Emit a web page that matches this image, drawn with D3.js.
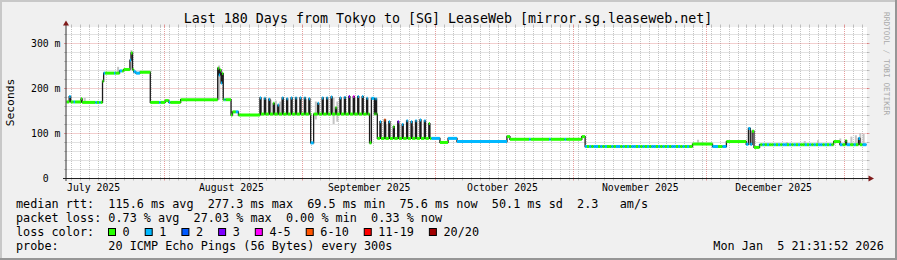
<!DOCTYPE html>
<html><head><meta charset="utf-8">
<script src="https://cdn.jsdelivr.net/npm/d3@7"></script>
<style>
html,body{margin:0;padding:0;background:#f0f0f0;}
svg{display:block;}
text{font-family:"DejaVu Sans Mono",monospace;white-space:pre;}
</style>
</head><body>
<svg id="c" width="897" height="260"></svg>
<script>
// ---------------- data ----------------
const title = "Last 180 Days from Tokyo to [SG] LeaseWeb [mirror.sg.leaseweb.net]";
const yAxisTitle = "Seconds";
const watermark = "RRDTOOL / TOBI OETIKER";
const startTime = "2025-07-09T21:31";
const endTime = "2026-01-05T21:31";
const yTickValues = [0, 100, 200, 300];
const yTickLabels = ["0  ", "100 m", "200 m", "300 m"];
const monthStarts = ["2025-07-01","2025-08-01","2025-09-01","2025-10-01","2025-11-01","2025-12-01","2026-01-01"];
const monthLabels = ["July 2025","August 2025","September 2025","October 2025","November 2025","December 2025","January 2026"];
const minorGridFirst = "2025-07-11T00:00";

const lossLabels = ["0","1","2","3","4-5","6-10","11-19","20/20"];
const lossColors = ["#26ff00","#00b8ff","#0059ff","#7e00ff","#ff00ff","#ff5500","#ff0000","#a10000"];

// median steps: [time step begins, median rtt (ms), loss class index]
const medianSteps = [
 ["2025-07-09T21:31",169,0],["2025-07-10T12:00",181,1],["2025-07-10T20:00",169,0],
 ["2025-07-11T12:00",169,1],["2025-07-11T20:00",169,0],["2025-07-13T04:00",176,0],
 ["2025-07-13T10:00",168,0],["2025-07-16T10:00",168,1],["2025-07-16T18:00",168,0],
 ["2025-07-17T06:00",168,1],["2025-07-17T14:00",168,0],["2025-07-18T00:00",215,0],
 ["2025-07-18T06:00",233,1],["2025-07-18T14:00",233,0],["2025-07-20T14:00",233,1],
 ["2025-07-20T22:00",233,0],["2025-07-21T20:00",238,1],["2025-07-22T10:00",238,0],
 ["2025-07-22T18:00",241,0],["2025-07-24T04:00",262,1],["2025-07-24T10:00",278,0],
 ["2025-07-24T18:00",241,0],["2025-07-25T00:00",236,1],["2025-07-25T12:00",233,1],
 ["2025-07-26T10:00",235,0],["2025-07-28T18:00",168,0],["2025-07-30T18:00",168,1],
 ["2025-07-31T02:00",168,0],["2025-08-01T02:00",172,0],["2025-08-01T22:00",168,1],
 ["2025-08-02T06:00",168,0],["2025-08-04T14:00",174,0],["2025-08-12T22:00",244,0],
 ["2025-08-13T04:00",229,1],["2025-08-13T10:00",240,0],["2025-08-13T16:00",211,1],
 ["2025-08-13T22:00",232,0],["2025-08-14T04:00",174,0],["2025-08-14T10:00",174,1],
 ["2025-08-14T16:00",174,0],["2025-08-15T22:00",140,0],["2025-08-16T06:00",147,0],
 ["2025-08-17T00:00",147,1],["2025-08-17T14:00",140,0],
 ["2025-09-02T20:00",78,1],["2025-09-03T12:00",142,0],
 ["2025-09-16T02:00",78,0],["2025-09-16T12:00",177,1],["2025-09-17T04:00",142,0],
 ["2025-09-17T20:00",88,0],
 ["2025-09-30T00:00",88,1],["2025-10-01T22:00",79,0],["2025-10-03T18:00",88,1],
 ["2025-10-05T18:00",81,1],["2025-10-17T00:00",92,0],["2025-10-17T16:00",86,0],
 ["2025-10-22T00:00",86,1],["2025-10-22T08:00",86,0],["2025-10-26T12:00",86,1],
 ["2025-10-26T20:00",86,0],["2025-10-30T00:00",86,1],["2025-10-30T08:00",86,0],
 ["2025-11-02T20:00",92,0],["2025-11-03T14:00",70,1],
 ["2025-11-27T18:00",75.5,0],["2025-12-02T06:00",70,1],["2025-12-03T12:00",70,0],
 ["2025-12-04T12:00",70,1],["2025-12-05T09:00",81,0],["2025-12-09T20:00",75,1],
 ["2025-12-10T08:00",110,1],["2025-12-10T18:00",75,1],["2025-12-11T04:00",104,0],
 ["2025-12-11T14:00",68,0],["2025-12-12T20:00",74,1],
 ["2025-12-29T12:00",81,0],["2025-12-30T22:00",74,1],["2025-12-31T12:00",74,0],
 ["2026-01-01T04:00",83,0],["2026-01-01T10:00",74,1],["2026-01-02T06:00",74,0],
 ["2026-01-03T00:00",74,1],["2026-01-03T12:00",74,0],["2026-01-04T02:00",88,1],
 ["2026-01-04T10:00",74,0],["2026-01-05T00:00",74,1]
];

// daily evening peaks, Aug 22 .. Sep 29 (null = no peak that day)
const oscFirstDay = "2025-08-22";
const oscPeak = [178,177,175,166,162,178,176,178,178,178,
                 178,176,null,166,178,178,180,156,178,179,181,181,181,181,177,null,176,
                 125,129,125,114,125,119,127,125,127,129,127,121];
const oscPeakLoss = [1,1,1,0,1,1,1,1,1,1,
                     1,1,0,1,1,1,1,0,1,1,3,4,1,1,1,0,1,
                     1,5,1,0,3,1,1,1,1,1,1,0];
const oscBase = [142,142,142,142,142,142,142,142,142,142,
                 142,142,142,142,142,142,142,142,142,142,142,142,142,142,142,142,142,
                 88,88,88,88,88,88,88,88,88,88,88,88];

// half-day loss classes on the flat stretches
const novAltFirst = "2025-11-04T00:00";
const novAltMedian = 70;
const novAltLoss = [0,1,0,1,1,0,1,0,1,0,0,1,0,1,1,0,1,0,1,0,1,1,0,1,0,1,0,1,0,1,1,0,1,0,1,0,1,0,1,1,0,1,0,1,0,1,0];
const decAltFirst = "2025-12-13T00:00";
const decAltMedian = 74;
const decAltLoss = [0,1,0,1,0,0,1,0,1,0,1,1,0,1,0,1,0,1,0,0,1,0,1,0,1,0,1,1,0,1,0,1,0];

// smoke (spread of pings): [time, low ms, high ms]
const smoke = [
 ["2025-07-14T00:00",168,178],["2025-07-21T12:00",233,247],["2025-07-24T12:00",241,284],
 ["2025-08-13T06:00",174,250],["2025-08-23T20:00",140,176],["2025-08-24T20:00",140,174],
 ["2025-08-26T00:00",140,172],["2025-08-27T00:00",140,170],["2025-09-01T20:00",142,175],
 ["2025-09-04T00:00",130,170],["2025-09-08T00:00",120,178],["2025-09-08T20:00",125,170],
 ["2025-09-12T20:00",142,178],["2025-09-19T20:00",88,120],["2025-09-22T20:00",88,118],
 ["2025-09-25T20:00",88,115],["2025-11-29T00:00",75,85],["2025-11-30T00:00",75,80],
 ["2025-12-19T00:00",74,80],["2025-12-23T00:00",74,82],["2025-12-26T00:00",74,84],
 ["2025-12-31T00:00",74,88],["2026-01-02T12:00",74,92],["2026-01-03T12:00",74,95],
 ["2026-01-04T12:00",74,100],["2026-01-05T06:00",74,98]
];

const legendRtt = "median rtt:  115.6 ms avg  277.3 ms max  69.5 ms min  75.6 ms now  50.1 ms sd  2.3   am/s";
const legendLoss = "packet loss: 0.73 % avg  27.03 % max  0.00 % min  0.33 % now";
const legendLossColor = "loss color:";
const legendProbe = "probe:       20 ICMP Echo Pings (56 Bytes) every 300s";
const stamp = "Mon Jan  5 21:31:52 2026";

// ---------------- build series ----------------
const P = d3.utcParse("%Y-%m-%dT%H:%M");
const PD = d3.utcParse("%Y-%m-%d");
const T0 = P(startTime), T1 = P(endTime);

let steps = medianSteps.map(d => ({t: P(d[0]), v: d[1], l: d[2]}));
const od = PD(oscFirstDay);
oscPeak.forEach((pk, i) => {
  if (pk == null) return;
  const day = d3.utcDay.offset(od, i);
  steps.push({t: d3.utcHour.offset(day, 10), v: pk, l: oscPeakLoss[i]});
  steps.push({t: d3.utcHour.offset(day, 16), v: oscBase[i], l: 0});
});
novAltLoss.forEach((l, i) => steps.push({t: d3.utcHour.offset(P(novAltFirst), 12 * i), v: novAltMedian, l}));
decAltLoss.forEach((l, i) => steps.push({t: d3.utcHour.offset(P(decAltFirst), 12 * i), v: decAltMedian, l}));
steps.sort((a, b) => a.t - b.t);
steps.forEach((d, i) => d.e = i < steps.length - 1 ? steps[i + 1].t : T1);

// ---------------- scales ----------------
const X0 = 66.5, X1 = 866.5, YB = 178, YT = 27;
const x = d3.scaleUtc().domain([T0, T1]).range([X0, X1]);
const y = d3.scaleLinear().domain([0, 100]).range([YB, YB - 45]);
const crisp = v => Math.floor(v) + 0.5;

const svg = d3.select("#c");

// background and frame
svg.append("rect").attr("width", 897).attr("height", 260).attr("fill", "#f0f0f0");
svg.append("rect").attr("x", 0).attr("y", 0).attr("width", 897).attr("height", 2).attr("fill", "#c8c8c8");
svg.append("rect").attr("x", 0).attr("y", 0).attr("width", 2).attr("height", 260).attr("fill", "#c8c8c8");
svg.append("rect").attr("x", 0).attr("y", 258).attr("width", 897).attr("height", 2).attr("fill", "#969696");
svg.append("rect").attr("x", 895).attr("y", 0).attr("width", 2).attr("height", 260).attr("fill", "#969696");

// canvas
svg.append("rect").attr("x", 67).attr("y", YT).attr("width", 800).attr("height", YB - YT).attr("fill", "#ffffff");

const defs = svg.append("defs");
defs.append("clipPath").attr("id", "plot").append("rect")
  .attr("x", 66).attr("y", YT).attr("width", 801).attr("height", YB - YT + 1);

// grid
const gGrid = svg.append("g");
const minorCol = "rgba(140,140,140,0.5)";
const majorCol = "rgba(200,40,40,0.45)";
const yMinor = d3.range(20, 340, 20).filter(v => v % 100 !== 0 && y(v) >= YT);
const yMajor = yTickValues.filter(v => v > 0);
const monthTicks = monthStarts.map(PD).filter(t => t > T0 && t < T1);
const monthKeys = new Set(monthTicks.map(t => +t));
const xMinor = d3.utcDay.range(P(minorGridFirst), T1, 2).filter(t => !monthKeys.has(+t));

function hLine(v, col) {
  const yy = crisp(y(v));
  gGrid.append("line").attr("x1", X0).attr("x2", X1 + 1).attr("y1", yy).attr("y2", yy)
    .attr("stroke", col).attr("stroke-dasharray", "1,1");
  gGrid.append("line").attr("x1", X0 - 2.5).attr("x2", X0).attr("y1", yy).attr("y2", yy).attr("stroke", col);
  gGrid.append("line").attr("x1", X1 + 0.5).attr("x2", X1 + 3).attr("y1", yy).attr("y2", yy).attr("stroke", col);
}
function vLine(t, col) {
  const xx = crisp(x(t));
  gGrid.append("line").attr("x1", xx).attr("x2", xx).attr("y1", YT).attr("y2", YB)
    .attr("stroke", col).attr("stroke-dasharray", "1,1");
  gGrid.append("line").attr("x1", xx).attr("x2", xx).attr("y1", YB).attr("y2", YB + 2.5).attr("stroke", col);
  gGrid.append("line").attr("x1", xx).attr("x2", xx).attr("y1", YT - 2.5).attr("y2", YT).attr("stroke", col);
}
yMinor.forEach(v => hLine(v, minorCol));
xMinor.forEach(t => vLine(t, minorCol));
yMajor.forEach(v => hLine(v, majorCol));
monthTicks.forEach(t => vLine(t, majorCol));

// data
const gData = svg.append("g").attr("clip-path", "url(#plot)");
gData.selectAll("rect.smoke").data(smoke).join("rect").attr("class", "smoke")
  .attr("x", d => x(P(d[0])) - 1).attr("width", 2)
  .attr("y", d => y(d[2])).attr("height", d => y(d[1]) - y(d[2]))
  .attr("fill", "#c4c4c4");

const stepPts = steps.map(d => ({t: d.t, v: d.v})).concat([{t: T1, v: steps[steps.length - 1].v}]);
gData.append("path").datum(stepPts)
  .attr("d", d3.line().x(d => x(d.t)).y(d => y(d.v)).curve(d3.curveStepAfter))
  .attr("fill", "none").attr("stroke", "#1c1c1c").attr("stroke-width", 1.3);

gData.selectAll("line.med").data(steps).join("line").attr("class", "med")
  .attr("x1", d => x(d.t)).attr("x2", d => x(d.e))
  .attr("y1", d => y(d.v)).attr("y2", d => y(d.v))
  .attr("stroke", d => lossColors[d.l]).attr("stroke-width", 3);

// axes
const axisCol = "#3a3a3a";
svg.append("line").attr("x1", 66).attr("x2", 66).attr("y1", YB + 3).attr("y2", 24).attr("stroke", axisCol).attr("stroke-width", 1);
svg.append("line").attr("x1", 63).attr("x2", 870).attr("y1", YB + 0.5).attr("y2", YB + 0.5).attr("stroke", "#202020");
svg.append("path").attr("d", "M63,25.5 L69,25.5 L66,20.5 Z").attr("fill", "#7f1a1a");
svg.append("path").attr("d", "M868.5,175.5 L868.5,181.5 L874,178.5 Z").attr("fill", "#7f1a1a");

// y tick labels
svg.selectAll("text.ylab").data(yTickValues).join("text").attr("class", "ylab")
  .attr("x", 60.5).attr("y", v => y(v) + 3.5).attr("text-anchor", "end")
  .attr("font-size", 9.8).attr("fill", "#000").text((v, i) => yTickLabels[i]);

// month labels (centred mid-month)
monthStarts.forEach((m, i) => {
  const c = d3.utcDay.offset(PD(m), 15);
  if (c < T0 || c > T1) return;
  svg.append("text").attr("x", x(c)).attr("y", 190.5).attr("text-anchor", "middle")
    .attr("font-size", 9.8).attr("fill", "#000").text(monthLabels[i]);
});

// titles
svg.append("text").attr("x", 448).attr("y", 23).attr("text-anchor", "middle")
  .attr("font-size", 13.3).attr("fill", "#000").text(title);
svg.append("text").attr("transform", "translate(13.5,102.5) rotate(-90)").attr("text-anchor", "middle")
  .attr("font-size", 11.3).attr("fill", "#000").text(yAxisTitle);
svg.append("text").attr("transform", "translate(883.5,12) rotate(90)")
  .attr("font-size", 7.8).attr("fill", "#a9a9a9").text(watermark);

// legend
const LF = 11.8, CW = LF * 0.6021;
svg.append("text").attr("x", 16).attr("y", 208).attr("font-size", LF).text(legendRtt);
svg.append("text").attr("x", 16).attr("y", 222).attr("font-size", LF).text(legendLoss);
svg.append("text").attr("x", 16).attr("y", 236).attr("font-size", LF).text(legendLossColor);
let bx = 108;
lossLabels.forEach((lab, i) => {
  svg.append("rect").attr("x", bx + 0.5).attr("y", 228.5).attr("width", 7).attr("height", 7)
    .attr("fill", lossColors[i]).attr("stroke", "#000").attr("stroke-width", 1);
  svg.append("text").attr("x", bx + 14.6).attr("y", 236).attr("font-size", LF).text(lab);
  bx += 14.6 + lab.length * CW + 15;
});
svg.append("text").attr("x", 16).attr("y", 250).attr("font-size", LF).text(legendProbe);
svg.append("text").attr("x", 713.3).attr("y", 250).attr("font-size", LF).text(stamp);
</script>
</body></html>
